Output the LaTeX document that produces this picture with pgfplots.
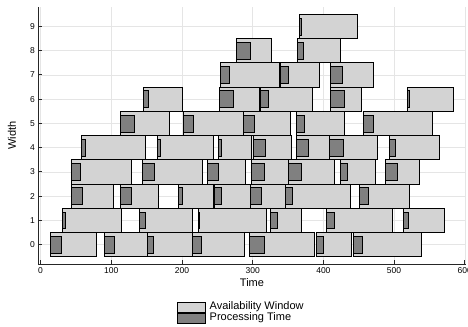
\documentclass[border=0pt]{standalone}
\usepackage{pgfplots}
\pgfplotsset{compat=1.18}
\usepackage{fontspec}
\setmainfont{Liberation Sans}
\definecolor{wincol}{RGB}{211,211,211}
\definecolor{proccol}{RGB}{128,128,128}
\definecolor{gridcol}{RGB}{229,229,229}
\newcommand{\W}[4]{\addplot[win] coordinates {(#1,#3) (#2,#3) (#2,#4) (#1,#4)} --cycle;}
\newcommand{\PT}[4]{\addplot[proc] coordinates {(#1,#3) (#2,#3) (#2,#4) (#1,#4)} --cycle;}
\begin{document}
\begin{tikzpicture}
\begin{axis}[
  name=ax,
  scale only axis,
  width=427.1pt, height=257pt,
  xmin=-3, xmax=601, ymin=-0.8, ymax=9.8,
  axis x line*=bottom, axis y line*=left,
  axis line style={black!85, line width=0.8pt},
  xtick={0,100,...,600}, ytick={0,1,...,9},
  tick align=inside, major tick length=4pt,
  tick style={black!85, line width=0.8pt},
  grid=major, major grid style={gridcol, line width=0.6pt},
  /pgf/number format/assume math mode=true,
  ticklabel style={font=\fontsize{8.5}{10}\selectfont},
  xticklabel style={yshift=-0.5pt},
  every axis x label/.style={at={(rel axis cs:0.5,0)}, anchor=center, yshift=-19pt, font=\fontsize{11}{13}\selectfont},
  every axis y label/.style={at={(rel axis cs:0,0.5)}, anchor=center, rotate=90, yshift=26.4pt, font=\fontsize{11}{13}\selectfont},
  xlabel={Time}, ylabel={Width},
  win/.style={fill=wincol, draw=black, line width=0.7pt, forget plot},
  proc/.style={fill=proccol, draw=black, line width=0.7pt, forget plot},
  legend style={at={(0.3245,0)}, anchor=north west, yshift=-38pt, draw=none, fill=none,
    inner sep=0pt, outer sep=0pt, row sep=0pt,
    font=\fontsize{11}{12}\selectfont,
    nodes={inner sep=0pt, text height=7.5pt, text depth=2.5pt, anchor=west},
    /tikz/every odd column/.append style={column sep=4pt}},
  legend cell align=left,
  legend image code/.code={\draw[#1] (0pt,-5pt) rectangle (28pt,5pt);},
]
% Availability windows
% row 0
\W{13.9}{79.0}{-0.5}{0.5}
\W{89.8}{151.1}{-0.5}{0.5}
\W{151.1}{214.3}{-0.5}{0.5}
\W{214.3}{288.8}{-0.5}{0.5}
\W{295.9}{386.8}{-0.5}{0.5}
\W{390.6}{439.7}{-0.5}{0.5}
\W{442.0}{538.7}{-0.5}{0.5}
% row 1
\W{30.9}{114.3}{0.5}{1.5}
\W{140.3}{214.3}{0.5}{1.5}
\W{222.8}{319.4}{0.5}{1.5}
\W{325.1}{368.9}{0.5}{1.5}
\W{404.8}{497.2}{0.5}{1.5}
\W{513.2}{571.7}{0.5}{1.5}
% row 2
\W{43.6}{102.5}{1.5}{2.5}
\W{112.9}{166.2}{1.5}{2.5}
\W{194.5}{244.9}{1.5}{2.5}
\W{246.3}{296.8}{1.5}{2.5}
\W{296.8}{346.8}{1.5}{2.5}
\W{346.8}{437.8}{1.5}{2.5}
\W{450.5}{522.2}{1.5}{2.5}
% row 3
\W{43.6}{128.5}{2.5}{3.5}
\W{143.6}{228.4}{2.5}{3.5}
\W{236.4}{290.2}{2.5}{3.5}
\W{297.7}{350.1}{2.5}{3.5}
\W{350.1}{416.1}{2.5}{3.5}
\W{424.6}{474.1}{2.5}{3.5}
\W{488.2}{535.4}{2.5}{3.5}
% row 4
\W{57.8}{148.8}{3.5}{4.5}
\W{164.8}{244.0}{3.5}{4.5}
\W{251.5}{298.2}{3.5}{4.5}
\W{300.6}{354.8}{3.5}{4.5}
\W{361.9}{408.1}{3.5}{4.5}
\W{408.1}{476.0}{3.5}{4.5}
\W{493.9}{563.6}{3.5}{4.5}
% row 5
\W{112.9}{182.7}{4.5}{5.5}
\W{201.6}{286.4}{4.5}{5.5}
\W{286.4}{353.4}{4.5}{5.5}
\W{361.9}{430.2}{4.5}{5.5}
\W{456.2}{553.8}{4.5}{5.5}
% row 6
\W{145.4}{200.6}{5.5}{6.5}
\W{253.4}{310.0}{5.5}{6.5}
\W{311.4}{384.5}{5.5}{6.5}
\W{409.9}{453.8}{5.5}{6.5}
\W{518.4}{583.5}{5.5}{6.5}
% row 7
\W{254.4}{337.3}{6.5}{7.5}
\W{339.2}{393.9}{6.5}{7.5}
\W{409.9}{470.3}{6.5}{7.5}
% row 8
\W{277.0}{326.5}{7.5}{8.5}
\W{363.3}{424.1}{7.5}{8.5}
% row 9
\W{366.1}{448.1}{8.5}{9.5}
% Processing times
% row 0
\PT{13.9}{29.9}{-0.35}{0.35}
\PT{89.8}{104.4}{-0.35}{0.35}
\PT{151.1}{159.1}{-0.35}{0.35}
\PT{214.3}{228.0}{-0.35}{0.35}
\PT{295.9}{317.1}{-0.35}{0.35}
\PT{390.6}{400.5}{-0.35}{0.35}
\PT{442.0}{455.7}{-0.35}{0.35}
% row 1
\PT{30.9}{35.1}{0.65}{1.35}
\PT{140.3}{148.3}{0.65}{1.35}
\PT{222.8}{225.1}{0.65}{1.35}
\PT{325.1}{334.5}{0.65}{1.35}
\PT{404.8}{416.1}{0.65}{1.35}
\PT{513.2}{519.8}{0.65}{1.35}
% row 2
\PT{43.6}{59.2}{1.65}{2.35}
\PT{112.9}{129.0}{1.65}{2.35}
\PT{194.5}{200.1}{1.65}{2.35}
\PT{246.3}{256.2}{1.65}{2.35}
\PT{296.8}{312.4}{1.65}{2.35}
\PT{346.8}{356.2}{1.65}{2.35}
\PT{450.5}{463.2}{1.65}{2.35}
% row 3
\PT{43.6}{56.8}{2.65}{3.35}
\PT{143.6}{161.0}{2.65}{3.35}
\PT{236.4}{252.0}{2.65}{3.35}
\PT{297.7}{317.1}{2.65}{3.35}
\PT{350.1}{368.9}{2.65}{3.35}
\PT{424.6}{434.0}{2.65}{3.35}
\PT{488.2}{504.7}{2.65}{3.35}
% row 4
\PT{57.8}{63.9}{3.65}{4.35}
\PT{164.8}{169.0}{3.65}{4.35}
\PT{251.5}{256.2}{3.65}{4.35}
\PT{300.6}{317.5}{3.65}{4.35}
\PT{361.9}{378.4}{3.65}{4.35}
\PT{408.1}{428.8}{3.65}{4.35}
\PT{493.9}{501.9}{3.65}{4.35}
% row 5
\PT{112.9}{133.2}{4.65}{5.35}
\PT{201.6}{216.6}{4.65}{5.35}
\PT{286.4}{302.9}{4.65}{5.35}
\PT{361.9}{373.6}{4.65}{5.35}
\PT{456.2}{471.2}{4.65}{5.35}
% row 6
\PT{145.4}{152.1}{5.65}{6.35}
\PT{253.4}{273.2}{5.65}{6.35}
\PT{311.4}{322.3}{5.65}{6.35}
\PT{409.9}{429.3}{5.65}{6.35}
\PT{518.4}{521.2}{5.65}{6.35}
% row 7
\PT{254.4}{267.6}{6.65}{7.35}
\PT{339.2}{350.5}{6.65}{7.35}
\PT{409.9}{426.9}{6.65}{7.35}
% row 8
\PT{277.0}{297.3}{7.65}{8.35}
\PT{363.3}{372.2}{7.65}{8.35}
% row 9
\PT{366.1}{368.9}{8.65}{9.35}
% legend
\addlegendimage{fill=wincol, draw=black, line width=0.7pt}
\addlegendentry{Availability Window}
\addlegendimage{fill=proccol, draw=black, line width=0.7pt}
\addlegendentry{Processing Time}
\end{axis}
\pgfresetboundingbox
\path ([shift={(-38.4pt,-63pt)}]ax.south west) rectangle ([shift={(2.5pt,7pt)}]ax.north east);
\end{tikzpicture}
\end{document}
